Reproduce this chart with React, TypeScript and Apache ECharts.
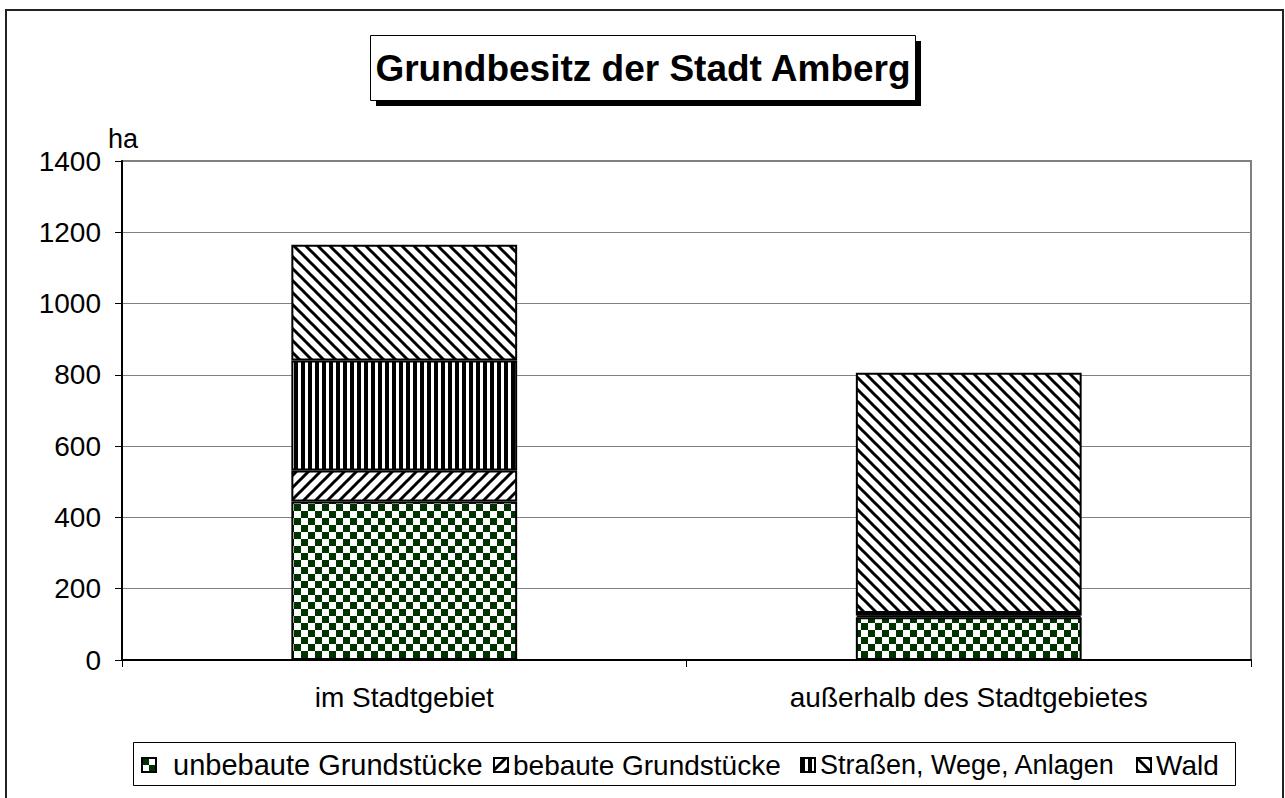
import React, { useEffect, useRef } from "react";
import * as echarts from "echarts";

const titleText = "Grundbesitz der Stadt Amberg";
const unitLabel = "ha";
const categories = ["im Stadtgebiet", "außerhalb des Stadtgebietes"];
const seriesNames = [
  "unbebaute Grundstücke",
  "bebaute Grundstücke",
  "Straßen, Wege, Anlagen",
  "Wald",
];
const unbebaut = [445, 120];
const bebaut = [87, 5];
const strassen = [308, 7];
const wald = [325, 674];
const yMin = 0;
const yMax = 1400;
const yInterval = 200;

const FONT = "'Liberation Sans', Arial, sans-serif";

function makeTile(kind: string) {
  let w = 12;
  let h = 12;
  if (kind === "checker") { w = 14; h = 14; }
  if (kind === "vertical") { w = 7; h = 7; }
  const c = document.createElement("canvas");
  c.width = w;
  c.height = h;
  const ctx = c.getContext("2d")!;
  ctx.fillStyle = "#ffffff";
  ctx.fillRect(0, 0, w, h);
  if (kind === "checker") {
    ctx.fillStyle = "#003300";
    ctx.fillRect(0, 0, 7, 7);
    ctx.fillRect(7, 7, 7, 7);
  } else if (kind === "vertical") {
    ctx.fillStyle = "#000000";
    ctx.fillRect(0, 0, 4, 7);
  } else {
    ctx.strokeStyle = "#000000";
    ctx.lineWidth = 3;
    for (const off of [-w, 0, w]) {
      ctx.beginPath();
      if (kind === "back") {
        ctx.moveTo(off - 2, -2);
        ctx.lineTo(off + w + 2, h + 2);
      } else {
        ctx.moveTo(off - 2, h + 2);
        ctx.lineTo(off + w + 2, -2);
      }
      ctx.stroke();
    }
  }
  return { image: c.toDataURL(), repeat: "repeat", imageWidth: w, imageHeight: h };
}

export default function App() {
  const ref = useRef<HTMLDivElement>(null);
  useEffect(() => {
    if (!ref.current) return;
    const chart = echarts.init(ref.current, null, { renderer: "svg" });
    const patterns = [makeTile("checker"), makeTile("forward"), makeTile("vertical"), makeTile("back")];
    const values = [unbebaut, bebaut, strassen, wald];
    const legendLefts = [141, 493, 800, 1136];
    const legendFont = [29, 28, 27, 28];
    const legendPad = [12, 0, 0, 0];
    const option: any = {
      animation: false,
      backgroundColor: "#ffffff",
      textStyle: { fontFamily: FONT },
      grid: {
        left: 122,
        right: 34,
        top: 161,
        bottom: 138,
        show: true,
        borderColor: "#808080",
        borderWidth: 2,
        backgroundColor: "#ffffff",
      },
      legend: seriesNames.map((n, i) => ({
        data: [n],
        left: legendLefts[i],
        top: 749,
        padding: 0,
        icon: "rect",
        itemWidth: 14,
        itemHeight: 14,
        itemStyle: { borderColor: "#000", borderWidth: 2 },
        textStyle: {
          fontSize: legendFont[i],
          color: "#000",
          fontFamily: FONT,
          lineHeight: 32,
          padding: [0, 0, 0, legendPad[i]],
        },
      })),
      xAxis: {
        type: "category",
        data: categories,
        axisLine: { lineStyle: { color: "#000", width: 2 } },
        axisTick: { show: true, length: 7, lineStyle: { color: "#000", width: 1 } },
        axisLabel: { color: "#000", fontSize: 28, margin: 23, fontFamily: FONT },
      },
      yAxis: {
        type: "value",
        min: yMin,
        max: yMax,
        interval: yInterval,
        axisLine: { show: true, lineStyle: { color: "#000", width: 2 } },
        axisTick: { show: true, length: 7, lineStyle: { color: "#000", width: 1 } },
        axisLabel: {
          color: "#000",
          fontSize: 28,
          margin: 21,
          fontFamily: FONT,
          formatter: (v: number) => String(v),
        },
        splitLine: { show: true, lineStyle: { color: "#808080", width: 1 } },
      },
      series: seriesNames.map((n, i) => ({
        name: n,
        type: "bar",
        stack: "total",
        barWidth: "40%",
        data: values[i],
        itemStyle: { color: patterns[i], borderColor: "#000", borderWidth: 2 },
      })),
      graphic: [
        {
          type: "rect",
          shape: { x: 6, y: 10, width: 1277, height: 800 },
          style: { fill: "none", stroke: "#222", lineWidth: 2 },
          silent: true,
        },
        {
          type: "rect",
          shape: { x: 376, y: 41, width: 545, height: 65 },
          style: { fill: "#000" },
          silent: true,
        },
        {
          type: "rect",
          shape: { x: 370.5, y: 35.5, width: 545, height: 65 },
          style: { fill: "#fff", stroke: "#000", lineWidth: 1 },
          silent: true,
        },
        {
          type: "text",
          x: 643,
          y: 68,
          style: {
            text: titleText,
            fontSize: 37,
            fontWeight: "bold",
            fontFamily: FONT,
            fill: "#000",
            align: "center",
            verticalAlign: "middle",
          },
          silent: true,
        },
        {
          type: "text",
          x: 108,
          y: 125,
          style: { text: unitLabel, fontSize: 27, fontFamily: FONT, fill: "#000" },
          silent: true,
        },
        {
          type: "rect",
          shape: { x: 133.5, y: 742.5, width: 1102, height: 43 },
          style: { fill: "none", stroke: "#000", lineWidth: 1 },
          silent: true,
        },
      ],
    };
    chart.setOption(option);
    return () => chart.dispose();
  }, []);
  return (
    <div
      ref={ref}
      style={{ position: "absolute", left: 0, top: 0, width: 1285, height: 798 }}
    />
  );
}
